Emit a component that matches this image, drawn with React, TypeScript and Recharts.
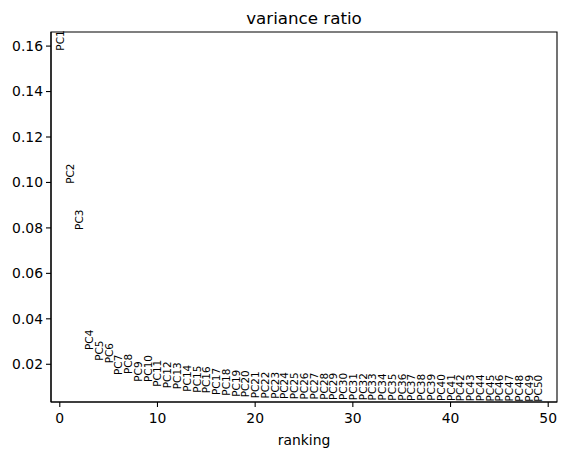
import { ScatterChart, Scatter, XAxis, YAxis, ReferenceArea } from "recharts";

const pcLabels = [
  "PC1", "PC2", "PC3", "PC4", "PC5", "PC6", "PC7", "PC8", "PC9", "PC10",
  "PC11", "PC12", "PC13", "PC14", "PC15", "PC16", "PC17", "PC18", "PC19", "PC20",
  "PC21", "PC22", "PC23", "PC24", "PC25", "PC26", "PC27", "PC28", "PC29", "PC30",
  "PC31", "PC32", "PC33", "PC34", "PC35", "PC36", "PC37", "PC38", "PC39", "PC40",
  "PC41", "PC42", "PC43", "PC44", "PC45", "PC46", "PC47", "PC48", "PC49", "PC50",
];

const varianceRatio = [
  0.158, 0.0994, 0.0791, 0.0263, 0.0215, 0.0204, 0.0153, 0.0157, 0.0123, 0.0122,
  0.0101, 0.0094, 0.009, 0.0079, 0.0075, 0.0072, 0.0065, 0.0062, 0.0057, 0.0055,
  0.005, 0.0049, 0.0048, 0.0047, 0.0046, 0.0045, 0.0045, 0.0044, 0.0043, 0.0043,
  0.0042, 0.0042, 0.0041, 0.0041, 0.004, 0.004, 0.0039, 0.0039, 0.0039, 0.0038,
  0.0038, 0.0037, 0.0037, 0.0037, 0.0036, 0.0036, 0.0036, 0.0035, 0.0035, 0.0035,
];

const xTicks = [0, 10, 20, 30, 40, 50];
const yTicks = [0.02, 0.04, 0.06, 0.08, 0.1, 0.12, 0.14, 0.16];

const data = varianceRatio.map((v, i) => ({ rank: i, ratio: v, name: pcLabels[i] }));

const font = "'DejaVu Sans', sans-serif";

// rotated label standing on its data point, like matplotlib's vertical text
function PcLabel(props: any) {
  const { cx, cy, payload } = props;
  if (cx == null || cy == null) return null;
  return (
    <text
      x={cx}
      y={cy}
      transform={`rotate(-90 ${cx} ${cy})`}
      textAnchor="start"
      dominantBaseline="central"
      fontSize={10.5}
      fontFamily={font}
      fill="#000"
    >
      {payload.name}
    </text>
  );
}

export default function App() {
  const tick = { fill: "#000", fontSize: 13.9, fontFamily: font };
  return (
    <div style={{ position: "absolute", left: 0, top: 0, width: 566, height: 455, background: "#fff" }}>
      <div
        style={{
          position: "absolute",
          left: 51,
          width: 506,
          top: 10,
          textAlign: "center",
          fontFamily: font,
          fontSize: 16.7,
          lineHeight: "16.7px",
          color: "#000",
        }}
      >
        variance ratio
      </div>
      <ScatterChart width={566} height={455} margin={{ top: 32, right: 9, left: 0, bottom: 0 }}>
        <XAxis
          type="number"
          dataKey="rank"
          domain={[-0.9, 50.9]}
          ticks={xTicks}
          height={53}
          tickSize={5}
          tickMargin={6}
          tick={tick}
          stroke="#000"
          strokeWidth={1.1}
          label={{ value: "ranking", position: "insideBottom", offset: 10, fill: "#000", fontSize: 13.9, fontFamily: font }}
        />
        <YAxis
          type="number"
          dataKey="ratio"
          domain={[0.0034, 0.1662]}
          ticks={yTicks}
          width={51}
          tickSize={5}
          tickMargin={3}
          tick={tick}
          tickFormatter={(v: number) => v.toFixed(2)}
          stroke="#000"
          strokeWidth={1.1}
        />
        <ReferenceArea x1={-0.9} x2={50.9} y1={0.0034} y2={0.1662} fill="none" stroke="#000" strokeWidth={1.1} />
        <Scatter data={data} shape={PcLabel} isAnimationActive={false} />
      </ScatterChart>
    </div>
  );
}
